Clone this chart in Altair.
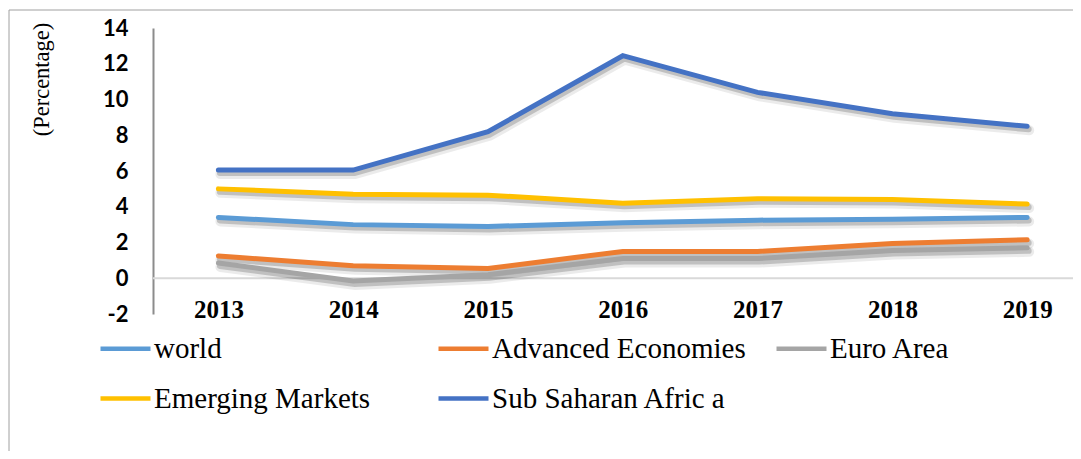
import altair as alt
import pandas as pd

years = [2013, 2014, 2015, 2016, 2017, 2018, 2019]
series_names = ["world", "Advanced Economies", "Euro Area", "Emerging Markets", "Sub Saharan Afric a"]
world = [3.4, 3.0, 2.9, 3.1, 3.25, 3.3, 3.4]
advanced = [1.25, 0.7, 0.55, 1.5, 1.5, 1.95, 2.15]
euro = [0.85, -0.15, 0.2, 1.1, 1.1, 1.55, 1.7]
emerging = [5.0, 4.7, 4.65, 4.2, 4.45, 4.4, 4.15]
ssa = [6.05, 6.05, 8.2, 12.45, 10.4, 9.2, 8.5]
colors = ["#5B9BD5", "#ED7D31", "#A5A5A5", "#FFC000", "#4472C4"]
y_ticks = [-2, 0, 2, 4, 6, 8, 10, 12, 14]
# legend fills column by column (2 rows x 3 columns)
legend_order = ["world", "Emerging Markets", "Advanced Economies", "Sub Saharan Afric a", "Euro Area"]
legend_colors = [colors[series_names.index(n)] for n in legend_order]

rows = []
for name, vals in zip(series_names, [world, advanced, euro, emerging, ssa]):
    for yr, v in zip(years, vals):
        rows.append({"year": yr, "series": name, "value": v})
df = pd.DataFrame(rows)

W, H = 920, 286
STEP = 134.8
x_enc = alt.X(
    "year:Q",
    scale=alt.Scale(domain=[2012.515, 2012.515 + W / STEP], nice=False, zero=False),
    axis=alt.Axis(values=years, format="d", domain=False, ticks=False, grid=False,
                  labelFont="Liberation Serif", labelFontSize=25, labelFontWeight="bold",
                  labelColor="black", labelBaseline="middle", labelPadding=0, offset=-5,
                  labelFlush=False, labelOverlap=False, title=None),
)
y_enc = alt.Y(
    "value:Q",
    scale=alt.Scale(domain=[-2, 14], nice=False, zero=False),
    axis=alt.Axis(values=y_ticks, ticks=False, grid=False, domainColor="#8c8c8c", domainWidth=2,
                  labelFont="Lato", labelFontSize=22, labelFontWeight="bold", labelColor="black",
                  labelPadding=25, labelBaseline="middle", labelOverlap=False, labelFlush=False,
                  labelExpr="'' + datum.value",
                  title="(Percentage)", titleFont="Liberation Serif", titleFontSize=22.5,
                  titleFontWeight="normal", titleColor="black", titleAngle=270,
                  titleX=-112, titleY=51, titleAlign="center", titleBaseline="middle"),
)

base = alt.Chart(df).encode(x=x_enc, y=y_enc)

shadow1 = base.mark_line(color="black", opacity=0.08, strokeWidth=10, xOffset=2, yOffset=4,
                         strokeCap="round").encode(detail="series:N")
shadow2 = base.mark_line(color="black", opacity=0.18, strokeWidth=6, xOffset=1.5, yOffset=3,
                         strokeCap="round").encode(detail="series:N")
lines = base.mark_line(strokeWidth=5, strokeCap="round").encode(
    color=alt.Color(
        "series:N",
        scale=alt.Scale(domain=legend_order, range=legend_colors),
        legend=alt.Legend(title=None, orient="none", legendX=-55, legendY=293, columns=3,
                          gridAlign="all", columnPadding=21, rowPadding=7,
                          symbolType="stroke", symbolSize=2500, symbolStrokeWidth=4.5,
                          labelFont="Liberation Serif", labelFontSize=29, labelColor="black",
                          labelOffset=1, labelLimit=500),
    )
)

zero_rule = alt.Chart(pd.DataFrame({"value": [0]})).mark_rule(color="#d9d9d9", strokeWidth=2).encode(
    y=y_enc, x=alt.value(0), x2=alt.value(W)
)

border = alt.Chart(alt.Data(values=[{}])).mark_rect(
    fillOpacity=0, stroke="#a0a0a0", strokeWidth=1
).encode(x=alt.value(-144), x2=alt.value(1000), y=alt.value(-18), y2=alt.value(500))

chart = alt.layer(border, zero_rule, shadow1, shadow2, lines).properties(
    width=W, height=H,
    autosize=alt.AutoSizeParams(type="none"),
    padding={"left": 145, "top": 20, "right": 0, "bottom": 137},
    background="white",
).configure_view(strokeWidth=0).configure_axis(labelOverlap=False, labelFlush=False)

chart.save("out.html", embed_options={"renderer": "svg", "actions": False})
